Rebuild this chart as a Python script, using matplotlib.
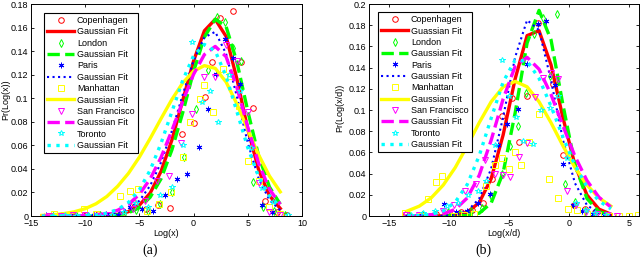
#!/usr/bin/env python

from matplotlib import pyplot as plt
from matplotlib.ticker import FormatStrFormatter, MultipleLocator

plt.rcParams['font.family'] = ['Liberation Sans', 'DejaVu Sans']

cities = ['Copenhagen', 'London', 'Paris', 'Manhattan', 'San Francisco', 'Toronto']

# ---- panel (a): Pr(Log(x)) ----
cph_x_a = [-13.2, -12.1, -11.0, -9.9, -8.8, -7.7, -6.6, -5.5, -4.4, -3.3, -2.2, -1.1, 0.0, 1.1, 1.7, 2.4, 3.6, 4.4, 5.5, 6.6, 7.7, 8.6]
cph_y_a = [0.000, 0.001, 0.000, 0.001, 0.002, 0.001, 0.000, 0.011, 0.006, 0.009, 0.007, 0.070, 0.079, 0.101, 0.131, 0.168, 0.174, 0.131, 0.092, 0.013, 0.003, 0.001]
lon_x_a = [-13.0, -11.9, -10.8, -9.7, -8.6, -7.5, -6.4, -5.3, -4.2, -3.1, -2.0, -0.9, 0.2, 1.3, 2.2, 2.9, 3.6, 4.4, 5.5, 6.4, 7.4, 8.4]
lon_y_a = [0.000, 0.000, 0.001, 0.000, 0.001, 0.001, 0.002, 0.005, 0.004, 0.010, 0.020, 0.050, 0.091, 0.124, 0.169, 0.165, 0.143, 0.132, 0.029, 0.008, 0.004, 0.001]
par_x_a = [-13.6, -12.5, -11.4, -10.3, -9.2, -8.1, -7.0, -5.9, -4.8, -3.7, -2.6, -1.5, -0.6, 0.5, 1.3, 2.1, 2.9, 3.6, 4.3, 5.2, 6.3, 7.2]
par_y_a = [0.001, 0.000, 0.001, 0.000, 0.001, 0.002, 0.001, 0.008, 0.006, 0.004, 0.018, 0.031, 0.036, 0.059, 0.091, 0.121, 0.150, 0.134, 0.112, 0.065, 0.009, 0.003]
man_x_a = [-12.9, -11.7, -10.1, -9.0, -7.9, -6.8, -5.9, -5.1, -4.3, -3.2, -2.1, -1.0, -0.3, 0.6, 1.0, 1.8, 2.7, 3.4, 4.2, 5.0, 6.0, 7.0, 8.0]
man_y_a = [0.002, 0.001, 0.006, 0.002, 0.001, 0.017, 0.021, 0.023, 0.004, 0.010, 0.020, 0.050, 0.080, 0.099, 0.111, 0.088, 0.125, 0.119, 0.093, 0.047, 0.030, 0.008, 0.002]
sf_x_a = [-13.3, -12.2, -11.1, -10.0, -8.9, -7.8, -6.7, -5.6, -4.5, -3.4, -2.3, -1.2, -0.1, 1.0, 2.0, 3.0, 4.0, 5.0, 6.0, 7.0, 8.0]
sf_y_a = [0.000, 0.000, 0.001, 0.001, 0.000, 0.001, 0.004, 0.006, 0.013, 0.030, 0.034, 0.062, 0.087, 0.118, 0.118, 0.145, 0.132, 0.088, 0.028, 0.003, 0.001]
tor_x_a = [-13.0, -11.9, -10.8, -9.7, -8.6, -7.5, -6.4, -5.3, -4.2, -3.1, -2.0, -1.0, -0.1, 0.8, 1.5, 2.3, 3.3, 4.3, 5.3, 6.3, 7.3, 8.7]
tor_y_a = [0.000, 0.001, 0.000, 0.001, 0.000, 0.001, 0.003, 0.011, 0.008, 0.018, 0.025, 0.060, 0.148, 0.097, 0.106, 0.080, 0.120, 0.106, 0.058, 0.024, 0.012, 0.001]

fit_x_a = [-14, -13, -12, -11, -10, -9, -8, -7, -6, -5, -4, -3, -2, -1, 0, 1, 2, 3, 4, 5, 6, 7, 8]
cph_fit_a = [0, 0, 0, 0, 0, .0001, .0004, .0014, .0037, .0092, .0195, .0379, .0645, .0982, .1316, .1573, .1670, .1525, .1163, .0738, .0393, .0173, .0064]
lon_fit_a = [0, 0, 0, 0, 0, .0001, .0003, .0010, .0028, .0070, .0160, .0316, .0561, .0877, .1227, .1519, .1671, .1609, .1307, .0892, .0512, .0247, .0100]
par_fit_a = [0, 0, 0, 0, .0001, .0003, .0009, .0025, .0060, .0130, .0258, .0455, .0722, .1030, .1319, .1517, .1564, .1378, .1013, .0621, .0319, .0136, .0049]
man_fit_a = [.0005, .0010, .0020, .0036, .0062, .0104, .0166, .0253, .0363, .0500, .0659, .0827, .0990, .1130, .1230, .1277, .1254, .1138, .0951, .0732, .0520, .0340, .0205]
sf_fit_a = [0, 0, 0, .0001, .0004, .0009, .0022, .0049, .0099, .0184, .0315, .0498, .0726, .0972, .1203, .1371, .1440, .1353, .1091, .0755, .0448, .0228, .0099]
tor_fit_a = [0, 0, 0, .0001, .0003, .0009, .0024, .0055, .0116, .0223, .0390, .0618, .0885, .1152, .1361, .1457, .1401, .1187, .0886, .0581, .0336, .0171, .0076]

# ---- panel (b): Pr(Log(x/d)) ----
cph_x_b = [-13.6, -12.2, -11.1, -10.0, -9.0, -8.1, -7.2, -6.4, -5.6, -4.8, -4.2, -3.5, -2.6, -1.3, -0.5, 0.4, 1.3, 2.2, 3.1]
cph_y_b = [0.002, 0.001, 0.002, 0.003, 0.004, 0.006, 0.012, 0.035, 0.094, 0.111, 0.070, 0.113, 0.182, 0.125, 0.058, 0.010, 0.007, 0.004, 0.001]
lon_x_b = [-13.4, -12.3, -11.2, -10.1, -9.1, -8.2, -7.3, -6.5, -5.6, -4.9, -4.3, -3.6, -2.9, -2.2, -1.6, -1.0, -0.3, 0.5, 1.3, 2.1, 3.0]
lon_y_b = [0.001, 0.001, 0.001, 0.004, 0.002, 0.005, 0.008, 0.019, 0.040, 0.066, 0.085, 0.116, 0.172, 0.187, 0.132, 0.191, 0.030, 0.013, 0.005, 0.002, 0.001]
par_x_b = [-13.5, -12.4, -11.3, -10.4, -9.4, -8.5, -7.6, -6.6, -5.9, -5.2, -4.3, -3.5, -2.6, -1.9, -1.2, -0.5, 0.3, 1.1, 2.0, 2.9]
par_y_b = [0.000, 0.001, 0.002, 0.011, 0.004, 0.005, 0.012, 0.021, 0.067, 0.087, 0.101, 0.143, 0.181, 0.184, 0.124, 0.049, 0.010, 0.005, 0.002, 0.001]
man_x_b = [-13.7, -12.4, -11.8, -11.1, -10.6, -9.6, -8.8, -7.9, -6.9, -6.2, -5.6, -5.0, -4.5, -4.0, -3.3, -2.5, -1.7, -0.9, -0.1, 0.7, 1.5, 2.4, 3.3, 4.2, 5.0, 5.8]
man_y_b = [0.003, 0.000, 0.016, 0.032, 0.038, 0.000, 0.001, 0.002, 0.028, 0.048, 0.055, 0.044, 0.060, 0.048, 0.070, 0.096, 0.035, 0.017, 0.007, 0.006, 0.002, 0.001, 0.000, 0.000, 0.000, 0.001]
sf_x_b = [-13.6, -12.5, -11.5, -10.5, -9.6, -8.7, -7.8, -7.0, -6.2, -5.5, -4.9, -4.2, -3.5, -2.8, -2.2, -1.5, -0.9, -0.2, 0.6, 1.4, 2.3, 3.2, 4.0]
sf_y_b = [0.001, 0.001, 0.000, 0.005, 0.010, 0.024, 0.030, 0.053, 0.040, 0.039, 0.037, 0.056, 0.069, 0.112, 0.130, 0.135, 0.129, 0.024, 0.010, 0.004, 0.002, 0.001, 0.000]
tor_x_b = [-13.2, -12.2, -11.2, -10.2, -9.3, -8.4, -7.6, -6.9, -6.2, -5.6, -5.0, -4.4, -3.8, -3.0, -2.3, -1.6, -0.9, -0.2, 0.6, 1.4, 2.2, 3.1]
tor_y_b = [0.001, 0.003, 0.005, 0.009, 0.012, 0.020, 0.024, 0.033, 0.067, 0.147, 0.113, 0.093, 0.071, 0.068, 0.100, 0.102, 0.113, 0.055, 0.012, 0.006, 0.003, 0.001]

fit_x_b = [-13.5, -12.5, -11.5, -10.5, -9.5, -8.5, -7.5, -6.5, -5.5, -4.5, -3.5, -2.5, -1.5, -0.5, 0.5, 1.5, 2.5, 3.5]
cph_fit_b = [0, 0, 0, .0001, .0008, .0035, .0126, .0352, .0765, .1292, .1702, .1748, .1426, .0925, .0481, .0198, .0065, .0017]
lon_fit_b = [0, 0, 0, 0, 0, .0004, .0026, .0122, .0409, .0971, .1632, .1940, .1662, .1046, .0484, .0165, .0041, .0008]
par_fit_b = [0, 0, 0, .0002, .0010, .0046, .0164, .0447, .0933, .1498, .1848, .1754, .1279, .0716, .0309, .0102, .0026, .0005]
man_fit_b = [.0047, .0093, .0172, .0292, .0457, .0661, .0880, .1078, .1219, .1270, .1219, .1078, .0880, .0661, .0457, .0292, .0172, .0093]
sf_fit_b = [0, .0001, .0005, .0019, .0063, .0170, .0383, .0715, .1104, .1411, .1497, .1385, .1146, .0849, .0563, .0334, .0177, .0084]
tor_fit_b = [.0001, .0004, .0015, .0049, .0131, .0297, .0568, .0922, .1265, .1471, .1462, .1298, .1036, .0742, .0478, .0276, .0143, .0067]

# marker, colour, fit line style, fit width
styles = [('o', (1, 0, 0), '-', 2.4),
          ('d', (0, 1, 0), '--', 2.4),
          ((6, 2, 0), (0, 0, 1), ':', 1.5),
          ('s', (1, 1, 0), '-', 2.4),
          ('v', (1, 0, 1), '--', 2.4),
          ('*', (0, 1, 1), ':', 2.4)]


def draw_panel(ax, pts, fit_x, fits, fit_names):
    for i, (name, (px, py), fy) in enumerate(zip(cities, pts, fits)):
        mk, col, ls, lw = styles[i]
        ax.plot(px, py, linestyle='none', marker=mk, mfc='none', mec=col,
                ms=4, mew=0.7, label=name)
        ax.plot(fit_x, fy, linestyle=ls, color=col, lw=lw, label=fit_names[i])
    ax.tick_params(direction='in', top=True, right=True, labelsize=6.5,
                   length=2.5, width=0.6, pad=2)
    ax.yaxis.set_major_locator(MultipleLocator(0.02))
    ax.yaxis.set_major_formatter(FormatStrFormatter('%g'))
    ax.xaxis.set_major_locator(MultipleLocator(5))
    for sp in ax.spines.values():
        sp.set_linewidth(0.7)
    leg = ax.legend(loc='upper left', borderaxespad=0, fontsize=6.5,
                    fancybox=False, framealpha=1, edgecolor='black',
                    handlelength=3.0, labelspacing=0.26, borderpad=0.35,
                    handletextpad=0.3, numpoints=1)
    leg.get_frame().set_linewidth(0.8)
    return leg


fig = plt.figure(figsize=(6.4, 2.63), dpi=100)

ax1 = fig.add_axes([0.0484, 0.1787, 0.4234, 0.806])
leg1 = draw_panel(ax1,
                  [(cph_x_a, cph_y_a), (lon_x_a, lon_y_a), (par_x_a, par_y_a),
                   (man_x_a, man_y_a), (sf_x_a, sf_y_a), (tor_x_a, tor_y_a)],
                  fit_x_a,
                  [cph_fit_a, lon_fit_a, par_fit_a, man_fit_a, sf_fit_a, tor_fit_a],
                  ['Gaussian Fit'] * 6)
leg1.set_bbox_to_anchor((0.048, 0.958))
ax1.set_xlim(-15, 10)
ax1.set_ylim(0, 0.18)
ax1.set_xlabel('Log(x)', fontsize=6.5, labelpad=1)
ax1.set_ylabel('Pr(Log(x))', fontsize=6.5)
ax1.yaxis.set_label_coords(-0.078, 0.55)

ax2 = fig.add_axes([0.5766, 0.1787, 0.4219, 0.806])
leg2 = draw_panel(ax2,
                  [(cph_x_b, cph_y_b), (lon_x_b, lon_y_b), (par_x_b, par_y_b),
                   (man_x_b, man_y_b), (sf_x_b, sf_y_b), (tor_x_b, tor_y_b)],
                  fit_x_b,
                  [cph_fit_b, lon_fit_b, par_fit_b, man_fit_b, sf_fit_b, tor_fit_b],
                  ['Guassian Fit'] + ['Gaussian Fit'] * 5)
leg2.set_bbox_to_anchor((0.033, 0.962))
ax2.set_xlim(-16.7, 5.85)
ax2.set_ylim(0, 0.2)
ax2.set_xlabel('Log(x/d)', fontsize=6.5, labelpad=1)
ax2.set_ylabel('Pr(Log(x/d))', fontsize=6.5)
ax2.yaxis.set_label_coords(-0.093, 0.51)

fig.text(0.234, 0.035, '(a)', fontsize=10, family='Liberation Serif', ha='center')
fig.text(0.755, 0.035, '(b)', fontsize=10, family='Liberation Serif', ha='center')

plt.savefig('out.png', dpi=100)
